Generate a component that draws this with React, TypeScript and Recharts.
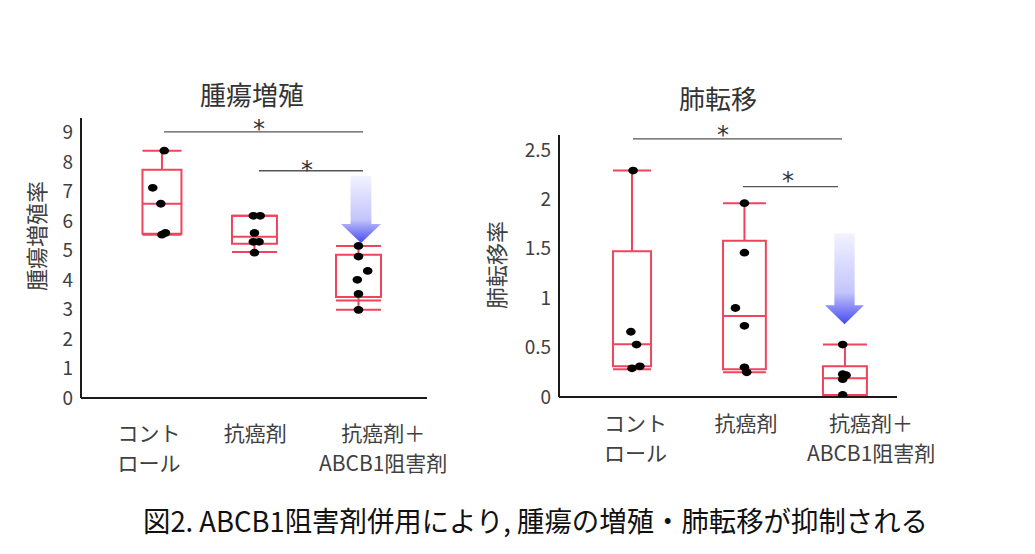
import React from 'react';
import {
  ComposedChart,
  XAxis,
  YAxis,
  Scatter,
  ReferenceArea,
  ReferenceLine,
  ReferenceDot,
} from 'recharts';

const JP_FONT = '"Noto Sans CJK JP", "Noto Sans", sans-serif';
const BOX_RED = '#f0435c';
const TEXT_GRAY = '#404040';

// カテゴリ（両グラフ共通）
const categoryLabels = [['コント', 'ロール'], ['抗癌剤'], ['抗癌剤＋', 'ABCB1阻害剤']];

// 腫瘍増殖率
const growthTicks = [0, 1, 2, 3, 4, 5, 6, 7, 8, 9];
const growthMin = [5.54, 4.95, 2.99];
const growthQ1 = [5.57, 5.23, 3.43];
const growthMedian = [6.59, 5.47, 3.31];
const growthQ3 = [7.74, 6.18, 4.86];
const growthMax = [8.39, 6.18, 5.16];
const growthPoints = [
  [8.39, 7.13, 6.59, 5.6, 5.54],
  [6.18, 6.18, 5.6, 5.3, 5.3, 4.93],
  [5.16, 4.8, 4.31, 4.01, 3.53, 2.99],
];
const growthJitter = [
  [0.02, -0.08, -0.01, 0.03, 0],
  [-0.01, 0.05, 0, -0.01, 0.04, 0],
  [0, 0, 0.08, -0.01, 0, 0],
];

// 肺転移率
const metaTicks = [0, 0.5, 1, 1.5, 2, 2.5];
const metaMin = [0.28, 0.25, 0.02];
const metaQ1 = [0.31, 0.28, 0.02];
const metaMedian = [0.534, 0.82, 0.19];
const metaQ3 = [1.475, 1.58, 0.31];
const metaMax = [2.29, 1.96, 0.53];
const metaPoints = [
  [2.29, 0.66, 0.53, 0.31, 0.29],
  [1.96, 1.46, 0.9, 0.72, 0.3, 0.25],
  [0.53, 0.23, 0.22, 0.18, 0.02],
];
const metaJitter = [
  [0.01, -0.01, 0.04, 0.07, 0],
  [0, 0, -0.08, 0, 0, 0.02],
  [-0.02, -0.02, 0.01, -0.02, -0.02],
];

// 有意差の線 [x1, x2, y, 星のx, 星のy]
const growthSig = [
  [0.72, 2.445, 9.03, 1.543, 9.375],
  [1.543, 2.445, 7.71, 1.96, 7.98],
];
const metaSig = [
  [0.657, 2.512, 2.61, 1.456, 2.72],
  [1.633, 2.476, 2.127, 2.032, 2.258],
];

const Dot = (props: any) => (
  <ellipse cx={props.cx} cy={props.cy} rx={4.8} ry={3.9} fill="#000" />
);

const Star = (props: any) => (
  <text
    x={props.cx}
    y={props.cy + 7}
    textAnchor="middle"
    dominantBaseline="central"
    fontSize={24}
    fill="#333"
    fontFamily='"DejaVu Sans", sans-serif'
  >
    *
  </text>
);

const Arrow = (props: any) => {
  const { x, y, width, height, gid } = props;
  const cx = x + width / 2;
  const shaft = width * 0.26;
  const headY = y + height - 19;
  const pts = [
    [cx - shaft, y],
    [cx + shaft, y],
    [cx + shaft, headY],
    [x + width, headY],
    [cx, y + height],
    [x, headY],
    [cx - shaft, headY],
  ]
    .map((p) => p.join(','))
    .join(' ');
  return (
    <g>
      <defs>
        <linearGradient id={gid} x1="0" y1="0" x2="0" y2="1">
          <stop offset="0%" stopColor="#f2f2ff" />
          <stop offset="65%" stopColor="#c3c5fb" />
          <stop offset="100%" stopColor="#4649f2" />
        </linearGradient>
      </defs>
      <polygon points={pts} fill={`url(#${gid})`} />
    </g>
  );
};

const CategoryTick = (props: any) => {
  const { x, y, index, dy } = props;
  const lines = categoryLabels[index] || [];
  return (
    <g>
      {lines.map((t: string, i: number) => (
        <text
          key={i}
          x={x}
          y={y + dy + i * 30}
          textAnchor="middle"
          dominantBaseline="central"
          fontSize={21}
          fill={TEXT_GRAY}
          fontFamily={JP_FONT}
        >
          {t}
        </text>
      ))}
    </g>
  );
};

interface PanelProps {
  width: number;
  margin: { top: number; right: number; bottom: number; left: number };
  yMax: number;
  yTicks: number[];
  xTicks: number[];
  tickDy: number;
  centers: number[];
  halfWidths: number[];
  mins: number[];
  q1s: number[];
  medians: number[];
  q3s: number[];
  maxs: number[];
  points: number[][];
  jitter: number[][];
  sig: number[][];
  arrow: { x1: number; x2: number; y1: number; y2: number };
  gid: string;
}

const BoxPanel = (p: PanelProps) => {
  const scatterData = p.points.flatMap((vals, g) =>
    vals.map((v, i) => ({ x: p.centers[g] + p.jitter[g][i], y: v }))
  );
  const seg = (key: string, x1: number, y1: number, x2: number, y2: number) => (
    <ReferenceLine
      key={key}
      segment={[
        { x: x1, y: y1 },
        { x: x2, y: y2 },
      ]}
      stroke={BOX_RED}
      strokeWidth={2}
      ifOverflow="visible"
    />
  );
  return (
    <ComposedChart width={p.width} height={554} margin={p.margin}>
      <XAxis
        type="number"
        dataKey="x"
        domain={[0, 3]}
        ticks={p.xTicks}
        interval={0}
        allowDataOverflow
        height={70}
        tickLine={false}
        axisLine={{ stroke: '#1a1a1a', strokeWidth: 2 }}
        tick={<CategoryTick dy={p.tickDy} />}
      />
      <YAxis
        type="number"
        dataKey="y"
        domain={[0, p.yMax]}
        ticks={p.yTicks}
        interval={0}
        allowDataOverflow
        width={60}
        tickLine={false}
        axisLine={{ stroke: '#1a1a1a', strokeWidth: 2 }}
        tick={{ fontSize: 19, fill: TEXT_GRAY, fontFamily: JP_FONT }}
      />
      {p.centers.map((c, g) => (
        <ReferenceArea
          key={`box${g}`}
          x1={c - p.halfWidths[g]}
          x2={c + p.halfWidths[g]}
          y1={p.q1s[g]}
          y2={p.q3s[g]}
          fill="none"
          fillOpacity={0}
          stroke={BOX_RED}
          strokeWidth={2}
          strokeOpacity={1}
          ifOverflow="visible"
        />
      ))}
      {p.centers.map((c, g) => seg(`med${g}`, c - p.halfWidths[g], p.medians[g], c + p.halfWidths[g], p.medians[g]))}
      {p.centers.map((c, g) => seg(`wu${g}`, c, p.q3s[g], c, p.maxs[g]))}
      {p.centers.map((c, g) => seg(`wl${g}`, c, p.q1s[g], c, p.mins[g]))}
      {p.centers.map((c, g) => seg(`cu${g}`, c - p.halfWidths[g], p.maxs[g], c + p.halfWidths[g], p.maxs[g]))}
      {p.centers.map((c, g) => seg(`cl${g}`, c - p.halfWidths[g], p.mins[g], c + p.halfWidths[g], p.mins[g]))}
      {p.sig.map((s, i) => (
        <ReferenceLine
          key={`sig${i}`}
          segment={[
            { x: s[0], y: s[2] },
            { x: s[1], y: s[2] },
          ]}
          stroke="#555"
          strokeWidth={1.3}
          ifOverflow="visible"
        />
      ))}
      {p.sig.map((s, i) => (
        <ReferenceDot
          key={`star${i}`}
          x={s[3]}
          y={s[4]}
          r={0}
          ifOverflow="visible"
          shape={(sp: any) => <Star {...sp} />}
        />
      ))}
      <ReferenceArea
        x1={p.arrow.x1}
        x2={p.arrow.x2}
        y1={p.arrow.y2}
        y2={p.arrow.y1}
        ifOverflow="visible"
        shape={(sp: any) => <Arrow {...sp} gid={p.gid} />}
      />
      <Scatter data={scatterData} shape={<Dot />} isAnimationActive={false} />
    </ComposedChart>
  );
};

export default function App() {
  return (
    <div
      style={{
        position: 'absolute',
        left: 0,
        top: 0,
        width: 1035,
        height: 554,
        background: '#fff',
        overflow: 'hidden',
      }}
    >
      <div style={{ position: 'absolute', left: 0, top: 0 }}>
        <BoxPanel
          width={470}
          margin={{ top: 118, right: 43, bottom: 86, left: 21 }}
          yMax={9.5}
          yTicks={growthTicks}
          xTicks={[0.59, 1.51, 2.62]}
          tickDy={26}
          centers={[0.702, 1.504, 2.406]}
          halfWidths={[0.169, 0.195, 0.195]}
          mins={growthMin}
          q1s={growthQ1}
          medians={growthMedian}
          q3s={growthQ3}
          maxs={growthMax}
          points={growthPoints}
          jitter={growthJitter}
          sig={growthSig}
          arrow={{ x1: 2.254, x2: 2.601, y1: 7.54, y2: 5.26 }}
          gid="arrowGradL"
        />
      </div>
      <div style={{ position: 'absolute', left: 470, top: 0 }}>
        <BoxPanel
          width={540}
          margin={{ top: 135, right: 113, bottom: 87, left: 29 }}
          yMax={2.65}
          yTicks={metaTicks}
          xTicks={[0.68, 1.66, 2.77]}
          tickDy={17}
          centers={[0.648, 1.646, 2.538]}
          halfWidths={[0.169, 0.19, 0.195]}
          mins={metaMin}
          q1s={metaQ1}
          medians={metaMedian}
          q3s={metaQ3}
          maxs={metaMax}
          points={metaPoints}
          jitter={metaJitter}
          sig={metaSig}
          arrow={{ x1: 2.361, x2: 2.707, y1: 1.653, y2: 0.736 }}
          gid="arrowGradR"
        />
      </div>
      <svg
        width={1035}
        height={554}
        style={{ position: 'absolute', left: 0, top: 0, pointerEvents: 'none' }}
        fontFamily={JP_FONT}
      >
        <text x={252} y={93} textAnchor="middle" dominantBaseline="central" fontSize={26} fill="#333">
          腫瘍増殖
        </text>
        <text x={718} y={97} textAnchor="middle" dominantBaseline="central" fontSize={26} fill="#333">
          肺転移
        </text>
        <text
          x={35}
          y={236}
          textAnchor="middle"
          dominantBaseline="central"
          fontSize={22}
          fill={TEXT_GRAY}
          transform="rotate(-90 35 236)"
        >
          腫瘍増殖率
        </text>
        <text
          x={495}
          y={265}
          textAnchor="middle"
          dominantBaseline="central"
          fontSize={22}
          fill={TEXT_GRAY}
          transform="rotate(-90 495 265)"
        >
          肺転移率
        </text>
        <text
          x={143}
          y={520}
          dominantBaseline="central"
          fontSize={28}
          fill="#111"
          textLength={785}
          lengthAdjust="spacingAndGlyphs"
        >
          図2. ABCB1阻害剤併用により, 腫瘍の増殖・肺転移が抑制される
        </text>
      </svg>
    </div>
  );
}
